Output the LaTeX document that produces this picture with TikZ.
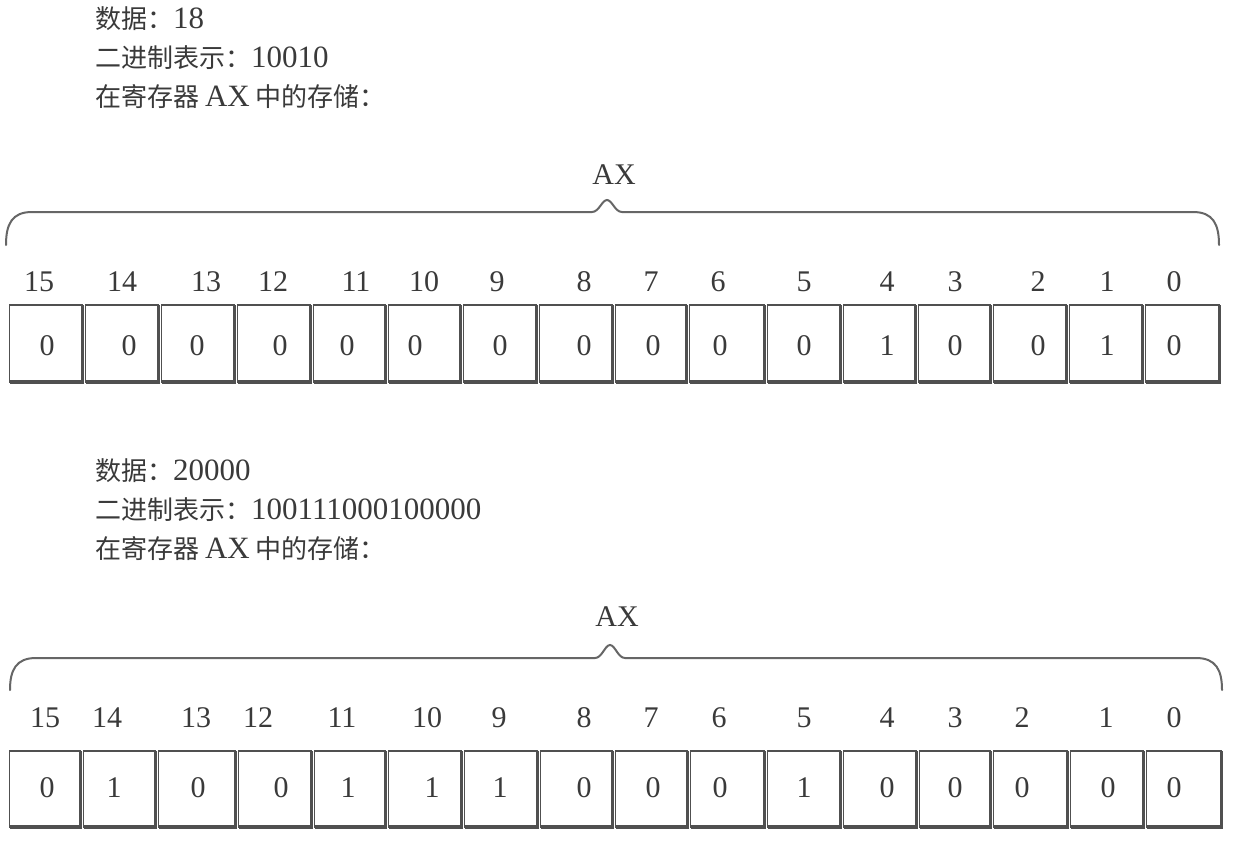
\documentclass[tikz,border=0pt]{standalone}
\usepackage{fontspec}
\setmainfont{Liberation Serif}
\newfontfamily\cjk{Noto Sans CJK SC}
\definecolor{ink}{HTML}{3A3A3A}
\definecolor{boxline}{HTML}{505050}
\definecolor{braceline}{HTML}{666666}
\newcommand{\zh}[1]{{\cjk\fontsize{26}{30}\selectfont #1}}
\begin{document}
\begin{tikzpicture}[x=1pt,y=-1pt,
  txt/.style={anchor=base west,inner sep=0pt,text=ink,font=\fontsize{31}{34}\selectfont},
  bitlbl/.style={inner sep=0pt,text=ink,font=\fontsize{30}{34}\selectfont},
  bitval/.style={inner sep=0pt,text=ink,font=\fontsize{30}{34}\selectfont},
  axlbl/.style={inner sep=0pt,text=ink,font=\fontsize{30}{34}\selectfont},
  cellthin/.style={draw=boxline,line width=1.8pt},
  cellthick/.style={draw=boxline,line width=3.4pt},
  bracestyle/.style={draw=braceline,line width=2pt,line cap=round}]
\useasboundingbox (0,0) rectangle (1258,841);
\fill[white] (0,0) rectangle (1258,841);

% ---------- texts, part 1
\node[txt] (t1) at (95,28) {\zh{数据：}18};
\node[txt] (t2) at (95,67) {\zh{二进制表示：}10010};
\node[txt] (t3) at (95,106) {\zh{在寄存器 }AX\zh{\ 中的存储：}};

% ---------- texts, part 2
\node[txt] (u1) at (95,480) {\zh{数据：}20000};
\node[txt] (u2) at (95,519) {\zh{二进制表示：}100111000100000};
\node[txt] (u3) at (95,558) {\zh{在寄存器 }AX\zh{\ 中的存储：}};

% ---------- register 1
\node[axlbl] (ax1) at (614,175) {AX};
\draw[bracestyle] (6,245) .. controls (6,224) and (12,212) .. (32,212) -- (592,212)
  .. controls (599,212) and (602,200) .. (607,200) .. controls (612,200) and (615,212) .. (622,212)
  -- (1193,212) .. controls (1213,212) and (1219,224) .. (1219,245);

\foreach \l/\r/\v/\lx/\vx/\b in {
  8/84/0/39/47/15, 84/160/0/122/129/14, 160/236/0/206/197/13, 236/312/0/273/280/12,
  312/387/0/356/347/11, 387/462/0/424/415/10, 462/538/0/497/500/9, 538/614/0/584/584/8,
  614/688/0/651/653/7, 688/766/0/718/720/6, 766/842/0/804/804/5, 842/917/1/887/887/4,
  917/992/0/955/955/3, 992/1068/0/1038/1038/2, 1068/1144/1/1107/1107/1, 1144/1221/0/1174/1174/0} {
  \draw[cellthin] (\l+1.5,305) rectangle (\r-1.5,382);
  \draw[cellthick] (\l+1.5,382) -- (\r-1.5,382) -- (\r-1.5,305);
  \node[bitlbl] (a\b) at (\lx,282) {\b};
  \node[bitval] (av\b) at (\vx,346) {\v};
}

% ---------- register 2
\node[axlbl] (ax2) at (617,617) {AX};
\draw[bracestyle] (10,690) .. controls (10,670) and (16,658) .. (36,658) -- (595,658)
  .. controls (602,658) and (605,645) .. (610,645) .. controls (615,645) and (618,658) .. (625,658)
  -- (1196,658) .. controls (1216,658) and (1222,670) .. (1222,690);

\foreach \l/\r/\v/\lx/\vx/\b in {
  8/82/0/45/47/15, 82/157/1/107/114/14, 157/237/0/196/198/13, 237/313/0/258/281/12,
  313/387/1/342/348/11, 387/463/1/427/432/10, 463/539/1/499/500/9, 539/614/0/584/584/8,
  614/689/0/651/653/7, 689/766/0/719/720/6, 766/842/1/804/804/5, 842/918/0/887/887/4,
  918/992/0/955/955/3, 992/1069/0/1022/1022/2, 1069/1145/0/1106/1108/1, 1145/1223/0/1174/1174/0} {
  \draw[cellthin] (\l+1.5,751) rectangle (\r-1.5,827);
  \draw[cellthick] (\l+1.5,827) -- (\r-1.5,827) -- (\r-1.5,751);
  \node[bitlbl] (b\b) at (\lx,718) {\b};
  \node[bitval] (bv\b) at (\vx,788) {\v};
}
\end{tikzpicture}
\end{document}
